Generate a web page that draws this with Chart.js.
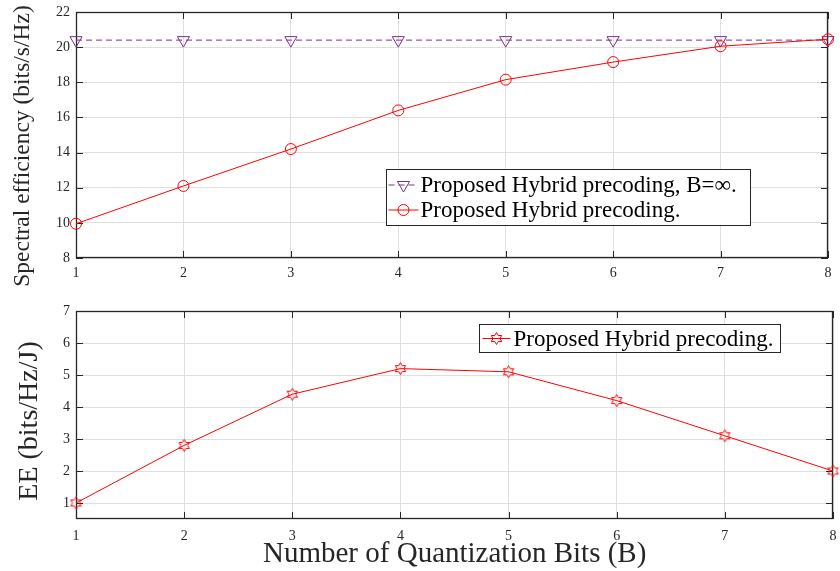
<!DOCTYPE html>
<html>
<head>
<meta charset="utf-8">
<script src="https://cdn.jsdelivr.net/npm/chart.js@4.4.1/dist/chart.umd.min.js"></script>
<style>
  html, body { margin: 0; padding: 0; background: #ffffff; }
  body { width: 840px; height: 571px; position: relative; overflow: hidden;
         font-family: "Liberation Serif", "Times New Roman", serif; }
  .panel { position: absolute; left: 0; width: 840px; }
  #topPanel { top: 0; height: 292px; }
  #bottomPanel { top: 290px; height: 281px; }
  .axisTitle { position: absolute; color: #262626; white-space: nowrap; }
  #xTitle { left: 263px; top: 538px; font-size: 29px; line-height: 29px; }
  .vTitle { transform: translate(-50%, -50%) rotate(-90deg); }
  #seTitle { left: 21px; top: 146px; font-size: 23.5px; line-height: 24px; }
  #eeTitle { left: 28px; top: 421px; font-size: 28px; line-height: 28px; }
</style>
</head>
<body>
<div class="panel" id="topPanel"><canvas id="seChart"></canvas></div>
<div class="panel" id="bottomPanel"><canvas id="eeChart"></canvas></div>
<div class="axisTitle vTitle" id="seTitle">Spectral efficiency (bits/s/Hz)</div>
<div class="axisTitle vTitle" id="eeTitle">EE (bits/Hz/J)</div>
<div class="axisTitle" id="xTitle">Number of Quantization Bits (B)</div>
<script>
// Quantization bits on the shared horizontal axis
const bits = [1, 2, 3, 4, 5, 6, 7, 8];

// Spectral efficiency (bits/s/Hz)
const seInfinite  = [20.4, 20.4, 20.4, 20.4, 20.4, 20.4, 20.4, 20.4];
const seQuantized = [9.95, 12.1, 14.2, 16.4, 18.15, 19.15, 20.05, 20.45];

// Energy efficiency (bits/Hz/J)
const eeQuantized = [1.0, 2.8, 4.4, 5.2, 5.1, 4.2, 3.1, 2.0];

// Tick values
const xTicks  = [1, 2, 3, 4, 5, 6, 7, 8];
const seTicks = [8, 10, 12, 14, 16, 18, 20, 22];
const eeTicks = [1, 2, 3, 4, 5, 6, 7];

// Series names
const nameInfinite  = 'Proposed Hybrid precoding, B=\u221E.';
const nameQuantized = 'Proposed Hybrid precoding.';

const AXIS_COLOR = '#262626';
const GRID_COLOR = '#dfdfdf';
const PURPLE = '#7E2F8E';
const RED = '#FF0000';
const SERIF = '"Liberation Serif", "Times New Roman", serif';

function points(ys) { return bits.map((b, i) => ({ x: b, y: ys[i] })); }

// Six-pointed star outline used as the energy-efficiency marker
function hexagram(r, color) {
  const s = Math.ceil(r * 2 + 3);
  const c = document.createElement('canvas');
  c.width = s; c.height = s;
  const g = c.getContext('2d');
  g.strokeStyle = color; g.lineWidth = 1;
  g.beginPath();
  for (let k = 0; k < 12; k++) {
    const ang = -Math.PI / 2 + k * Math.PI / 6;
    const rr = k % 2 === 0 ? r : r / Math.sqrt(3);
    const px = s / 2 + rr * Math.cos(ang), py = s / 2 + rr * Math.sin(ang);
    if (k === 0) g.moveTo(px, py); else g.lineTo(px, py);
  }
  g.closePath(); g.stroke();
  return c;
}
const starMarker = hexagram(6, RED);

function drawMarker(ctx, ds, x, y) {
  ctx.save();
  ctx.setLineDash([]);
  ctx.strokeStyle = ds.pointBorderColor; ctx.lineWidth = 1;
  const r = ds.pointRadius;
  if (ds.pointStyle === 'circle') {
    ctx.beginPath(); ctx.arc(x, y, r, 0, Math.PI * 2); ctx.stroke();
  } else if (ds.pointStyle === 'triangle') {
    // pointing down (rotation 180)
    ctx.beginPath();
    ctx.moveTo(x, y + r);
    ctx.lineTo(x - r * Math.sqrt(3) / 2, y - r / 2);
    ctx.lineTo(x + r * Math.sqrt(3) / 2, y - r / 2);
    ctx.closePath(); ctx.stroke();
  } else if (ds.pointStyle instanceof HTMLCanvasElement) {
    const w = ds.pointStyle.width, h = ds.pointStyle.height;
    ctx.drawImage(ds.pointStyle, x - w / 2, y - h / 2);
  }
  ctx.restore();
}

// Full box around the plot with inward tick marks on all four sides
const framePlugin = {
  id: 'frame',
  beforeDatasetsDraw(chart, args, opts) {
    const { ctx, chartArea: a, scales: { x, y } } = chart;
    const L = opts.tickLength;
    ctx.save();
    ctx.strokeStyle = AXIS_COLOR; ctx.lineWidth = 1;
    ctx.beginPath();
    x.ticks.forEach(t => {
      const px = Math.round(x.getPixelForValue(t.value)) + 0.5;
      ctx.moveTo(px, a.bottom); ctx.lineTo(px, a.bottom - L);
      ctx.moveTo(px, a.top); ctx.lineTo(px, a.top + L);
    });
    y.ticks.forEach(t => {
      const py = Math.round(y.getPixelForValue(t.value)) + 0.5;
      ctx.moveTo(a.left, py); ctx.lineTo(a.left + L, py);
      ctx.moveTo(a.right, py); ctx.lineTo(a.right - L, py);
    });
    ctx.stroke();
    ctx.lineWidth = 1.3;
    ctx.strokeRect(Math.round(a.left) + 0.5, Math.round(a.top) + 0.5,
                   Math.round(a.right - a.left) - 1, Math.round(a.bottom - a.top) - 1);
    ctx.restore();
  }
};

// Boxed legend placed inside the plot area
const boxLegendPlugin = {
  id: 'boxLegend',
  afterDatasetsDraw(chart, args, opts) {
    const { ctx, chartArea: a } = chart;
    const sets = chart.data.datasets;
    ctx.save();
    ctx.font = opts.fontSize + 'px ' + SERIF;
    const textW = Math.max(...sets.map(d => ctx.measureText(d.label).width));
    const x0 = Math.round(a.left + opts.x) + 0.5, y0 = Math.round(a.top + opts.y) + 0.5;
    const w = Math.round(opts.textOffset + textW + opts.padRight);
    const h = Math.round(opts.rowHeight * sets.length + opts.padY * 2);
    ctx.fillStyle = '#ffffff';
    ctx.fillRect(x0, y0, w, h);
    ctx.strokeStyle = AXIS_COLOR; ctx.lineWidth = 1;
    ctx.strokeRect(x0, y0, w, h);
    sets.forEach((ds, i) => {
      const cy = y0 + opts.padY + opts.rowHeight * (i + 0.5);
      ctx.save();
      ctx.strokeStyle = ds.borderColor; ctx.lineWidth = ds.borderWidth;
      ctx.setLineDash(ds.borderDash || []);
      ctx.beginPath();
      ctx.moveTo(x0 + opts.lineFrom, cy); ctx.lineTo(x0 + opts.lineTo, cy);
      ctx.stroke();
      ctx.restore();
      drawMarker(ctx, ds, x0 + (opts.lineFrom + opts.lineTo) / 2, cy);
      ctx.fillStyle = '#000000';
      ctx.textBaseline = 'middle'; ctx.textAlign = 'left';
      ctx.fillText(ds.label, x0 + opts.textOffset, cy + 1);
    });
    ctx.restore();
  }
};

function tickFont() { return { family: SERIF, size: 14 }; }

function xScale(height, pad) {
  return {
    type: 'linear', min: 1, max: 8,
    afterBuildTicks: s => { s.ticks = xTicks.map(v => ({ value: v })); },
    afterFit: s => { s.height = height; s.paddingLeft = 0; s.paddingRight = 0; },
    grid: { color: GRID_COLOR, drawTicks: false, lineWidth: 1 },
    border: { display: false },
    ticks: { font: tickFont(), color: AXIS_COLOR, padding: pad, maxRotation: 0 }
  };
}

function yScale(min, max, ticks) {
  return {
    type: 'linear', min: min, max: max,
    afterBuildTicks: s => { s.ticks = ticks.map(v => ({ value: v })); },
    afterFit: s => { s.width = 76; s.paddingTop = 0; s.paddingBottom = 0; },
    grid: { color: GRID_COLOR, drawTicks: false, lineWidth: 1 },
    border: { display: false },
    ticks: { font: tickFont(), color: AXIS_COLOR, padding: 6 }
  };
}

Chart.register(framePlugin, boxLegendPlugin);

new Chart(document.getElementById('seChart'), {
  type: 'line',
  data: {
    datasets: [
      {
        label: nameInfinite, data: points(seInfinite),
        borderColor: PURPLE, borderWidth: 1, borderDash: [6, 4],
        pointStyle: 'triangle', rotation: 180, pointRadius: 7,
        pointBorderColor: PURPLE, pointBackgroundColor: 'rgba(0,0,0,0)', pointBorderWidth: 1,
        clip: false, order: 2
      },
      {
        label: nameQuantized, data: points(seQuantized),
        borderColor: RED, borderWidth: 1,
        pointStyle: 'circle', pointRadius: 5.5,
        pointBorderColor: RED, pointBackgroundColor: 'rgba(0,0,0,0)', pointBorderWidth: 1,
        clip: false, order: 1
      }
    ]
  },
  options: {
    responsive: true, maintainAspectRatio: false, animation: false, events: [],
    layout: { padding: { top: 12, right: 12, left: 0, bottom: 0 } },
    scales: {
      x: xScale(34, 7),
      y: yScale(8, 22, seTicks)
    },
    plugins: {
      legend: { display: false }, tooltip: { enabled: false },
      frame: { tickLength: 7 },
      boxLegend: { x: 310, y: 157, fontSize: 23, rowHeight: 25, padY: 3,
                   textOffset: 34, lineFrom: 2, lineTo: 32, padRight: 14 }
    }
  }
});

new Chart(document.getElementById('eeChart'), {
  type: 'line',
  data: {
    datasets: [
      {
        label: nameQuantized, data: points(eeQuantized),
        borderColor: RED, borderWidth: 1,
        pointStyle: starMarker, pointRadius: 6,
        pointBorderColor: RED, pointBackgroundColor: 'rgba(0,0,0,0)', pointBorderWidth: 1,
        clip: false
      }
    ]
  },
  options: {
    responsive: true, maintainAspectRatio: false, animation: false, events: [],
    layout: { padding: { top: 21, right: 2, left: 0, bottom: 0 } },
    scales: {
      x: xScale(52, 9),
      y: yScale(0.5, 7, eeTicks)
    },
    plugins: {
      legend: { display: false }, tooltip: { enabled: false },
      frame: { tickLength: 7 },
      boxLegend: { x: 403, y: 13, fontSize: 23, rowHeight: 25, padY: 1.5,
                   textOffset: 34, lineFrom: 3, lineTo: 31, padRight: 7 }
    }
  }
});
</script>
</body>
</html>
